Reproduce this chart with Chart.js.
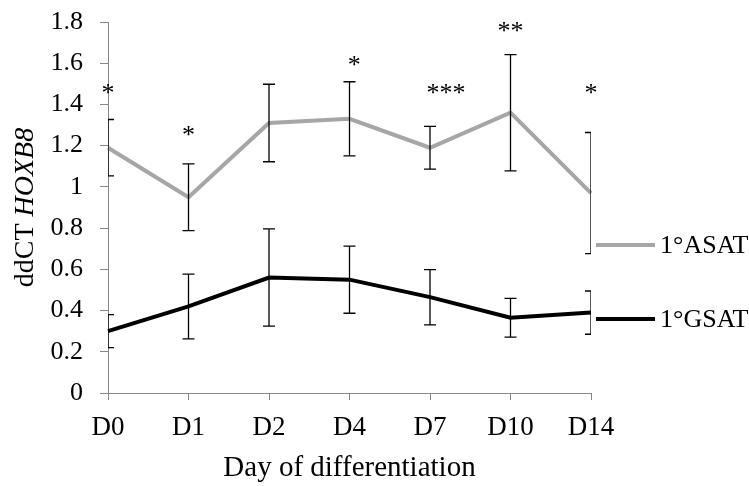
<!DOCTYPE html>
<html>
<head>
<meta charset="utf-8">
<script src="https://cdn.jsdelivr.net/npm/chart.js@4.4.1/dist/chart.umd.min.js"></script>
<style>
  html, body { margin: 0; padding: 0; background: #fff; }
  #wrap { width: 749px; height: 486px; }
</style>
</head>
<body>
<div id="wrap"><canvas id="chart" width="749" height="486"></canvas></div>
<script>
// --- data ---
const days = ['D0', 'D1', 'D2', 'D4', 'D7', 'D10', 'D14'];

const asatValues = [1.19, 0.95, 1.31, 1.33, 1.19, 1.36, 0.97];
const asatErr    = [0.137, 0.162, 0.188, 0.18, 0.104, 0.282, 0.294];

const gsatValues = [0.30, 0.42, 0.56, 0.55, 0.465, 0.365, 0.39];
const gsatErr    = [0.08, 0.157, 0.236, 0.163, 0.134, 0.094, 0.105];

// significance marks: text, category index, y value
const starText  = ['*', '*', '*', '***', '**', '*'];
const starIndex = [0, 1, 3.06, 4.2, 5, 6];
const starY     = [1.48, 1.276, 1.616, 1.48, 1.782, 1.48];

const FONT = '"Liberation Serif", "Times New Roman", serif';
const AXIS_GREY = '#868686';

// error bars, clipped to the plot area like the original
const errorBars = {
  id: 'errorBars',
  afterDatasetsDraw(chart) {
    const { ctx, chartArea, scales: { x, y } } = chart;
    const sets = [[asatValues, asatErr], [gsatValues, gsatErr]];
    ctx.save();
    ctx.beginPath();
    ctx.rect(chartArea.left, chartArea.top - 2, chartArea.right - chartArea.left, chartArea.bottom - chartArea.top + 4);
    ctx.clip();
    ctx.strokeStyle = '#000';
    ctx.lineWidth = 1.3;
    sets.forEach(([vals, errs]) => {
      vals.forEach((v, i) => {
        const px = x.getPixelForValue(i);
        const top = y.getPixelForValue(v + errs[i]);
        const bot = y.getPixelForValue(v - errs[i]);
        ctx.beginPath();
        ctx.moveTo(px, top); ctx.lineTo(px, bot);
        ctx.moveTo(px - 6, top); ctx.lineTo(px + 6, top);
        ctx.moveTo(px - 6, bot); ctx.lineTo(px + 6, bot);
        ctx.stroke();
      });
    });
    ctx.restore();
  }
};

// asterisks above the points
const stars = {
  id: 'stars',
  afterDatasetsDraw(chart) {
    const { ctx, scales: { x, y } } = chart;
    ctx.save();
    ctx.font = '26px ' + FONT;
    ctx.fillStyle = '#000';
    ctx.textAlign = 'center';
    ctx.textBaseline = 'alphabetic';
    starText.forEach((t, i) => {
      const i0 = Math.floor(starIndex[i]);
      const frac = starIndex[i] - i0;
      let px = x.getPixelForValue(i0);
      if (frac > 0) px += frac * (x.getPixelForValue(i0 + 1) - px);
      ctx.fillText(t, px, y.getPixelForValue(starY[i]) + 13);
    });
    ctx.restore();
  }
};

// y title with italic gene name
const yTitle = {
  id: 'yTitle',
  afterDraw(chart) {
    const { ctx, chartArea } = chart;
    const plain = 'ddCT ';
    const ital = 'HOXB8';
    ctx.save();
    ctx.fillStyle = '#000';
    ctx.font = '28px ' + FONT;
    const w1 = ctx.measureText(plain).width;
    ctx.font = 'italic 28px ' + FONT;
    const w2 = ctx.measureText(ital).width;
    const cy = (chartArea.top + chartArea.bottom) / 2;
    ctx.translate(33, cy);
    ctx.rotate(-Math.PI / 2);
    ctx.textBaseline = 'alphabetic';
    ctx.textAlign = 'left';
    const start = -(w1 + w2) / 2;
    ctx.font = '28px ' + FONT;
    ctx.fillText(plain, start, 0);
    ctx.font = 'italic 28px ' + FONT;
    ctx.fillText(ital, start + w1, 0);
    ctx.restore();
  }
};

// legend on the right
const sideLegend = {
  id: 'sideLegend',
  afterDraw(chart) {
    const { ctx } = chart;
    const rows = [245, 319];
    ctx.save();
    ctx.font = '26px ' + FONT;
    ctx.textBaseline = 'middle';
    ctx.textAlign = 'left';
    chart.data.datasets.forEach((ds, i) => {
      ctx.strokeStyle = ds.borderColor;
      ctx.lineWidth = 4;
      ctx.beginPath();
      ctx.moveTo(596, rows[i]);
      ctx.lineTo(655, rows[i]);
      ctx.stroke();
      ctx.fillStyle = '#000';
      ctx.fillText(ds.label, 660, rows[i] + 1);
    });
    ctx.restore();
  }
};

new Chart(document.getElementById('chart'), {
  type: 'line',
  data: {
    labels: days,
    datasets: [
      { label: '1°ASAT', data: asatValues, borderColor: '#A6A6A6', borderWidth: 4, pointRadius: 0, tension: 0 },
      { label: '1°GSAT', data: gsatValues, borderColor: '#000000', borderWidth: 4, pointRadius: 0, tension: 0 }
    ]
  },
  options: {
    responsive: false,
    animation: false,
    devicePixelRatio: 1,
    layout: { padding: { top: 22, right: 158, left: 0, bottom: 0 } },
    plugins: { legend: { display: false }, tooltip: { enabled: false } },
    scales: {
      x: {
        offset: false,
        afterFit: s => { s.height = 93; s.paddingLeft = 0; s.paddingRight = 0; },
        grid: { drawOnChartArea: false, drawTicks: true, tickLength: 7, color: AXIS_GREY },
        border: { color: AXIS_GREY, width: 1 },
        ticks: { color: '#000', font: { family: FONT, size: 27 }, padding: 12, maxRotation: 0 },
        title: { display: true, text: 'Day of differentiation', color: '#000',
                 font: { family: FONT, size: 29 }, padding: { top: 0, bottom: 0 } }
      },
      y: {
        min: 0, max: 1.8,
        afterFit: s => { s.width = 108; s.paddingTop = 0; s.paddingBottom = 0; },
        grid: { drawOnChartArea: false, drawTicks: true, tickLength: 8, color: AXIS_GREY },
        border: { color: AXIS_GREY, width: 1 },
        ticks: { stepSize: 0.2, color: '#000', font: { family: FONT, size: 26 }, padding: 17,
                 callback: v => String(+v.toFixed(1)) }
      }
    }
  },
  plugins: [errorBars, stars, yTitle, sideLegend]
});
</script>
</body>
</html>
